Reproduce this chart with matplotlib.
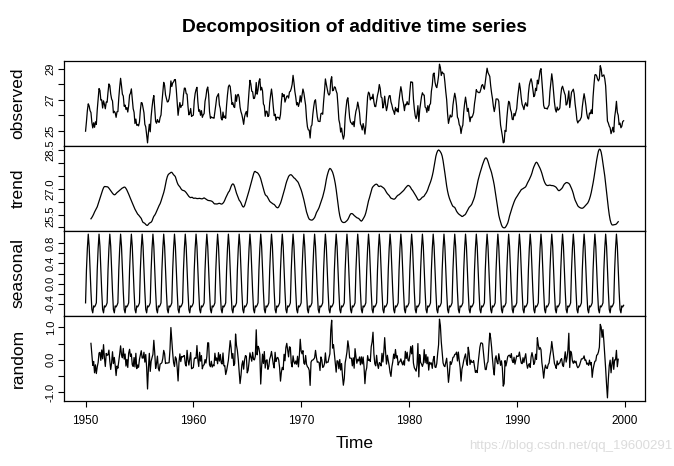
import matplotlib
import numpy as np

matplotlib.use("Agg")
import matplotlib.pyplot as plt  # noqa: E402

plt.rcParams["font.family"] = ["Liberation Sans", "DejaVu Sans"]
plt.rcParams["axes.unicode_minus"] = False

start_year = 1950
observed_rows = [
    [24.98, 25.60, 26.30, 26.74, 26.60, 26.30, 26.18, 25.55, 25.19, 25.52, 25.23, 25.58],
    [25.42, 26.35, 27.02, 27.72, 27.60, 26.98, 26.99, 26.47, 26.93, 26.71, 26.42, 26.85],
    [26.84, 27.49, 28.02, 27.91, 27.37, 27.05, 26.92, 26.16, 26.26, 26.16, 25.87, 26.23],
    [26.24, 27.13, 27.82, 28.38, 27.90, 27.36, 27.24, 26.58, 26.66, 26.38, 26.50, 26.21],
    [26.62, 27.30, 27.42, 27.70, 27.04, 26.43, 26.20, 25.47, 25.76, 25.36, 25.39, 25.32],
    [25.57, 26.32, 26.82, 26.79, 26.48, 26.17, 25.42, 25.26, 24.76, 24.23, 24.90, 25.43],
    [24.94, 25.92, 26.51, 26.99, 27.27, 26.46, 25.61, 25.49, 25.73, 25.58, 25.55, 25.86],
    [26.02, 26.82, 27.48, 28.12, 27.92, 27.32, 27.09, 26.86, 26.88, 27.06, 27.47, 28.21],
    [27.85, 28.08, 28.15, 28.29, 28.30, 27.66, 26.85, 26.00, 26.46, 26.82, 26.50, 26.64],
    [26.65, 27.32, 27.75, 27.74, 27.40, 27.36, 26.59, 26.03, 26.13, 26.44, 25.93, 25.98],
    [26.01, 26.93, 27.40, 27.65, 27.80, 26.89, 26.26, 26.35, 26.00, 26.30, 25.87, 26.03],
    [26.11, 26.90, 27.19, 27.65, 27.82, 27.33, 26.23, 25.81, 25.90, 25.84, 25.85, 25.81],
    [26.23, 26.67, 27.16, 27.27, 27.39, 26.66, 26.43, 25.80, 25.70, 26.21, 25.84, 25.95],
    [25.81, 26.65, 27.32, 27.83, 27.95, 27.85, 27.32, 26.70, 26.81, 26.55, 26.50, 27.32],
    [26.90, 27.30, 27.35, 27.15, 26.52, 26.23, 26.05, 25.76, 25.42, 25.90, 26.12, 26.25],
    [25.90, 26.75, 27.55, 28.25, 28.02, 27.55, 27.52, 27.08, 27.09, 27.35, 28.11, 27.36],
    [27.64, 28.18, 28.35, 27.62, 27.80, 27.57, 26.73, 26.62, 25.94, 26.27, 26.25, 25.92],
    [25.98, 26.81, 27.29, 27.69, 27.21, 26.53, 25.98, 26.07, 25.67, 25.88, 25.87, 25.86],
    [25.74, 26.05, 26.86, 27.41, 27.21, 27.33, 26.85, 27.05, 27.23, 27.25, 27.11, 27.50],
    [27.55, 27.72, 27.99, 28.57, 28.11, 27.54, 27.17, 26.67, 26.82, 26.57, 26.80, 27.26],
    [26.85, 27.30, 27.69, 27.45, 27.02, 26.64, 25.80, 25.26, 25.06, 25.05, 24.54, 25.28],
    [25.38, 26.06, 26.55, 26.92, 27.00, 26.41, 25.90, 25.62, 25.61, 25.60, 26.10, 26.14],
    [26.07, 26.88, 27.54, 28.34, 28.00, 27.71, 27.41, 27.30, 27.40, 28.25, 28.48, 27.58],
    [27.62, 27.83, 27.80, 27.57, 27.40, 26.63, 25.72, 25.45, 24.92, 25.18, 24.75, 24.47],
    [24.72, 25.87, 26.48, 26.98, 27.13, 26.53, 25.85, 25.56, 25.50, 25.40, 25.60, 25.27],
    [25.89, 26.27, 26.46, 26.85, 26.55, 26.16, 25.45, 25.32, 25.06, 25.47, 25.21, 24.79],
    [25.32, 26.23, 27.20, 27.49, 27.40, 26.99, 27.16, 27.07, 27.36, 26.87, 26.57, 26.56],
    [26.94, 27.29, 27.53, 27.98, 27.73, 27.18, 27.12, 26.47, 26.68, 27.23, 26.70, 26.30],
    [26.57, 27.01, 27.25, 27.27, 26.86, 26.67, 26.39, 26.26, 26.06, 26.51, 26.28, 26.42],
    [26.21, 26.97, 27.44, 27.84, 27.52, 27.01, 26.74, 26.30, 26.71, 26.67, 26.88, 26.69],
    [26.70, 27.51, 28.15, 28.14, 28.12, 27.05, 26.42, 25.97, 25.78, 26.04, 26.62, 25.60],
    [26.35, 26.79, 27.20, 27.45, 27.32, 27.30, 26.53, 26.48, 26.19, 26.62, 26.30, 26.67],
    [26.75, 27.55, 27.94, 28.65, 28.72, 28.14, 27.88, 27.78, 28.11, 28.54, 29.29, 29.08],
    [28.56, 28.79, 28.70, 28.67, 28.15, 27.53, 27.00, 26.12, 25.48, 25.75, 26.02, 25.89],
    [25.94, 26.66, 27.08, 27.42, 27.12, 26.63, 25.88, 25.76, 25.40, 25.29, 24.83, 25.20],
    [25.37, 26.21, 26.76, 27.17, 26.76, 26.25, 26.45, 25.97, 25.59, 25.90, 25.86, 25.98],
    [26.17, 26.75, 27.14, 27.65, 27.52, 27.49, 27.45, 27.48, 27.66, 27.92, 27.98, 27.81],
    [27.68, 28.17, 28.60, 29.03, 28.75, 28.63, 28.50, 27.90, 27.44, 27.07, 26.58, 26.24],
    [26.55, 27.05, 27.05, 27.04, 26.90, 26.11, 25.38, 25.05, 24.68, 24.23, 24.28, 25.03],
    [24.96, 25.81, 26.46, 26.90, 26.82, 26.39, 26.20, 25.74, 25.72, 26.12, 25.97, 26.20],
    [26.43, 27.12, 27.61, 28.07, 27.70, 27.13, 26.71, 26.56, 26.37, 26.68, 26.81, 26.62],
    [26.59, 27.41, 27.94, 28.19, 28.35, 28.11, 27.67, 27.20, 27.28, 27.74, 27.59, 28.26],
    [28.02, 28.45, 28.87, 29.00, 28.26, 27.45, 26.63, 26.45, 26.45, 26.45, 26.40, 26.55],
    [26.66, 27.54, 28.11, 28.67, 28.20, 27.50, 26.83, 26.39, 26.21, 26.53, 26.33, 26.38],
    [26.47, 27.25, 27.74, 27.87, 27.66, 27.46, 27.30, 26.66, 26.73, 27.10, 27.57, 26.50],
    [26.98, 27.48, 27.58, 27.68, 27.38, 26.73, 26.28, 25.70, 25.51, 25.64, 25.65, 25.76],
    [25.89, 26.54, 27.00, 27.39, 27.05, 26.63, 26.11, 25.83, 25.76, 26.15, 26.10, 26.35],
    [26.11, 27.20, 27.97, 28.60, 28.62, 28.53, 28.32, 28.21, 28.36, 29.19, 28.98, 28.50],
    [28.55, 28.60, 28.35, 27.89, 26.82, 25.63, 25.50, 25.30, 25.20, 24.82, 25.00, 25.23],
    [24.92, 25.87, 26.30, 26.90, 26.20, 26.00, 25.40, 25.50, 25.20, 25.30, 25.60, 25.65],
]

panel_names = ["observed", "trend", "seasonal", "random"]
x_ticks = [1950, 1960, 1970, 1980, 1990, 2000]

# y ticks per panel and which of them carry a label
y_ticks = [
    [25, 26, 27, 28, 29],
    [25.5, 26.0, 26.5, 27.0, 27.5, 28.0, 28.5],
    [-0.4, -0.2, 0.0, 0.2, 0.4, 0.6, 0.8],
    [-1.0, -0.5, 0.0, 0.5, 1.0],
]
y_labels = [
    ["25", "", "27", "", "29"],
    ["25.5", "", "", "27.0", "", "", "28.5"],
    ["-0.4", "", "0.0", "", "0.4", "", "0.8"],
    ["-1.0", "", "0.0", "", "1.0"],
]


def decompose(x, period=12):
    """Classical additive decomposition (centred moving average)."""
    n = len(x)
    w = np.r_[0.5, np.ones(period - 1), 0.5] / period
    trend = np.full(n, np.nan)
    half = period // 2
    trend[half:n - half] = np.convolve(x, w, mode="valid")
    detr = x - trend
    figure = np.array([np.nanmean(detr[m::period]) for m in range(period)])
    figure -= figure.mean()
    seasonal = np.tile(figure, n // period)
    return trend, seasonal, x - trend - seasonal


obs = np.array(observed_rows).ravel()
t = start_year + np.arange(len(obs)) / 12
trend, seasonal, resid = decompose(obs)
series = [obs, trend, seasonal, resid]

W, H = 674, 466
fig = plt.figure(figsize=(W / 100, H / 100), dpi=100)
left, right = 64 / W, 645 / W
top, bottom = 1 - 61 / H, 1 - 401 / H
ph = (top - bottom) / 4

for i, (name, y) in enumerate(zip(panel_names, series)):
    ax = fig.add_axes([left, top - (i + 1) * ph, right - left, ph])
    ax.plot(t, y, color="black", lw=0.9)
    lo, hi = np.nanmin(y), np.nanmax(y)
    pad = 0.04 * (hi - lo)
    ax.set_ylim(lo - pad, hi + pad)
    ax.set_xlim(1948.0, 2001.9)

    keep = [k for k, v in enumerate(y_ticks[i]) if lo - pad <= v <= hi + pad]
    ax.set_yticks([y_ticks[i][k] for k in keep],
                  labels=[y_labels[i][k] for k in keep])
    ax.tick_params(axis="y", labelrotation=90, labelsize=8, length=4,
                   width=0.8, pad=2)
    labs = [lab for lab in ax.get_yticklabels() if lab.get_text()]
    for lab in labs:
        lab.set_verticalalignment("center")
    # lowest trend label sits on the panel border next to the
    # seasonal "0.8"; lift it so the two do not collide
    if i == 1:
        labs[0].set_verticalalignment("bottom")

    if i == 3:
        ax.set_xticks(x_ticks)
        ax.tick_params(axis="x", labelsize=8.5, length=4, width=0.8, pad=6)
    else:
        ax.set_xticks([])

    for s in ax.spines.values():
        s.set_linewidth(0.9)

    fig.text(18 / W, top - (i + 0.5) * ph, name, rotation=90,
             ha="center", va="center", fontsize=12.5)

fig.text((left + right) / 2, 1 - 27 / H, "Decomposition of additive time series",
         ha="center", va="center", fontsize=13.8, fontweight="bold")
fig.text((left + right) / 2, 1 - 443 / H, "Time", ha="center", va="center",
         fontsize=12.5)
fig.text(672 / W, 1 - 446 / H, "https://blog.csdn.net/qq_19600291",
         ha="right", va="center", fontsize=9.5, color="#dcdcdc")

fig.savefig("out.png", dpi=100)
plt.close(fig)
